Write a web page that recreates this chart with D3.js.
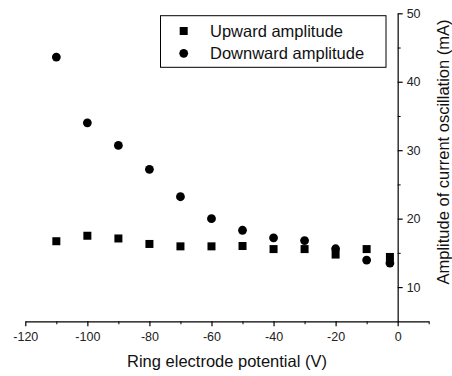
<!DOCTYPE html>
<html>
<head>
<meta charset="utf-8">
<script src="https://cdn.jsdelivr.net/npm/d3@7"></script>
<style>
  body { margin: 0; background: #fff; }
  svg { display: block; font-family: "Liberation Sans", Arial, sans-serif; }
</style>
</head>
<body>
<div id="chart"></div>
<script>
// data
const potential = [-110, -100, -90, -80, -70, -60, -50, -40, -30, -20, -10, -2.5];
const upward = [16.7, 17.5, 17.1, 16.3, 15.95, 15.95, 16.0, 15.55, 15.55, 14.75, 15.55, 14.4];
const downward = [43.6, 34.0, 30.7, 27.2, 23.2, 20.0, 18.3, 17.2, 16.8, 15.6, 13.95, 13.5];
const xTicks = [-120, -100, -80, -60, -40, -20, 0];
const yTicks = [10, 20, 30, 40, 50];
const seriesNames = ['Upward amplitude', 'Downward amplitude'];

const width = 452;
const height = 376;

const svg = d3.select('#chart')
    .append('svg')
        .attr('width', width)
        .attr('height', height);

const x = d3.scaleLinear()
    .domain([-120, 10])
    .range([25.3, 428.7]);
const y = d3.scaleLinear()
    .domain([5, 50])
    .range([321.3, 13.3]);

// plain hyphen for negatives, like the original
const fmt = d => String(d);

// x axis, minor ticks first
svg.append('g')
    .attr('transform', `translate(0,${y(5)})`)
    .call(d3.axisBottom(x).tickValues(d3.range(-110, 11, 20)).tickSize(3).tickFormat(''))
    .call(g => g.select('.domain').remove());

svg.append('g')
    .attr('transform', `translate(0,${y(5)})`)
    .call(d3.axisBottom(x).tickValues(xTicks).tickSize(5).tickSizeOuter(0).tickPadding(6).tickFormat(fmt))
    .call(g => g.select('.domain').attr('stroke-width', 1.2))
    .call(g => g.selectAll('.tick line').attr('stroke-width', 1.2))
    .call(g => g.selectAll('text')
        .attr('font-size', 12.5)
        .attr('font-family', '"Liberation Sans", Arial, sans-serif')
        .attr('fill', '#222'));

// y axis at x = 0
svg.append('g')
    .attr('transform', `translate(${x(0)},0)`)
    .call(d3.axisRight(y).tickValues(d3.range(15, 50, 10)).tickSize(3).tickFormat(''))
    .call(g => g.select('.domain').remove());

svg.append('g')
    .attr('transform', `translate(${x(0)},0)`)
    .call(d3.axisRight(y).tickValues(yTicks).tickSize(5).tickSizeOuter(0).tickPadding(4).tickFormat(fmt))
    .call(g => g.select('.domain').attr('stroke-width', 1.2))
    .call(g => g.selectAll('.tick line').attr('stroke-width', 1.2))
    .call(g => g.selectAll('text')
        .attr('font-size', 12.5)
        .attr('font-family', '"Liberation Sans", Arial, sans-serif')
        .attr('fill', '#222'));

// axis titles
svg.append('text')
    .attr('x', 227)
    .attr('y', 367)
    .attr('text-anchor', 'middle')
    .attr('font-size', 16.5)
    .attr('fill', '#111')
    .text('Ring electrode potential (V)');

svg.append('text')
    .attr('transform', `translate(449,${152}) rotate(-90)`)
    .attr('text-anchor', 'middle')
    .attr('font-size', 16.5)
    .attr('fill', '#111')
    .text('Amplitude of current oscillation (mA)');

// markers
const side = 8;
svg.append('g')
    .selectAll('rect')
    .data(upward)
    .join('rect')
        .attr('x', (d, i) => x(potential[i]) - side / 2)
        .attr('y', d => y(d) - side / 2)
        .attr('width', side)
        .attr('height', side)
        .attr('fill', '#000');

svg.append('g')
    .selectAll('circle')
    .data(downward)
    .join('circle')
        .attr('cx', (d, i) => x(potential[i]))
        .attr('cy', d => y(d))
        .attr('r', 4.4)
        .attr('fill', '#000');

// legend
const legend = svg.append('g');
legend.append('rect')
    .attr('x', 160.5)
    .attr('y', 15.7)
    .attr('width', 225.5)
    .attr('height', 51.6)
    .attr('fill', '#fff')
    .attr('stroke', '#000')
    .attr('stroke-width', 1);

legend.append('rect')
    .attr('x', 183.7 - side / 2)
    .attr('y', 31 - side / 2)
    .attr('width', side)
    .attr('height', side);
legend.append('circle')
    .attr('cx', 183.7)
    .attr('cy', 53.3)
    .attr('r', 4.4);

legend.selectAll('text')
    .data(seriesNames)
    .join('text')
        .attr('x', 210)
        .attr('y', (d, i) => 37 + i * 22.3)
        .attr('font-size', 16.5)
        .attr('fill', '#111')
        .text(d => d);
</script>
</body>
</html>
